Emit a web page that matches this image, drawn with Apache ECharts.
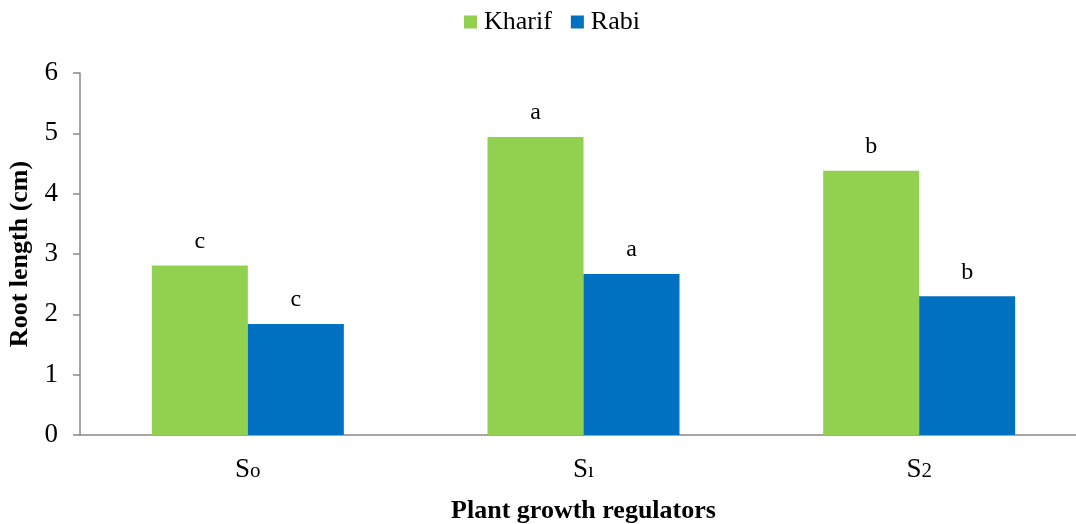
<!DOCTYPE html>
<html>
<head>
<meta charset="utf-8">
<script src="https://cdn.jsdelivr.net/npm/echarts@6/dist/echarts.min.js"></script>
<style>html,body{margin:0;padding:0;background:#fff}#c{width:1076px;height:524px}</style>
</head>
<body>
<div id="c"></div>
<script>
var categories = ['S|o', 'S|ı', 'S|2'];
var kharif = [2.81, 4.94, 4.38];
var rabi = [1.84, 2.67, 2.30];
var kharifLetters = ['c', 'a', 'b'];
var rabiLetters = ['c', 'a', 'b'];
var yTicks = [0, 1, 2, 3, 4, 5, 6];

var chart = echarts.init(document.getElementById('c'));
var font = 'Liberation Serif';
function mk(vals, letters, color, name) {
  return {
    name: name, type: 'bar', barGap: '0%', barCategoryGap: '42.8%',
    itemStyle: { color: color },
    data: vals,
    label: {
      show: true, position: 'top', distance: 12,
      fontFamily: font, fontSize: 24, color: '#000',
      formatter: function (p) { return letters[p.dataIndex]; }
    }
  };
}
chart.setOption({
  animation: false,
  textStyle: { fontFamily: font },
  legend: {
    top: 4, left: 459, itemWidth: 13, itemHeight: 13, itemGap: 19,
    icon: 'rect',
    textStyle: { fontFamily: font, fontSize: 26, color: '#000', padding: [0, 0, 0, 2] },
    data: ['Kharif', 'Rabi']
  },
  grid: { left: 80, right: -11, top: 73, bottom: 89, outerBoundsMode: 'none', containLabel: false },
  xAxis: {
    type: 'category', data: categories,
    axisLine: { lineStyle: { color: '#898989', width: 1.5 } },
    axisTick: { show: false },
    axisLabel: {
      margin: 21, color: '#000',
      formatter: function (v) { var p = v.split('|'); return '{s|' + p[0] + '}{d|' + p[1] + '}'; },
      rich: {
        s: { fontFamily: font, fontSize: 27, color: '#000' },
        d: { fontFamily: font, fontSize: 21, color: '#000', verticalAlign: 'bottom', padding: [0, 0, 1, 0] }
      }
    },
    name: 'Plant growth regulators', nameLocation: 'middle', nameGap: 63,
    nameTextStyle: { fontFamily: font, fontSize: 26, fontWeight: 'bold', color: '#000' }
  },
  yAxis: {
    type: 'value', min: yTicks[0], max: yTicks[yTicks.length - 1], interval: 1,
    axisLine: { show: true, lineStyle: { color: '#898989', width: 1.5 } },
    axisTick: { show: true, length: 7, lineStyle: { color: '#898989', width: 1.5 } },
    splitLine: { show: false },
    axisLabel: { margin: 22, fontFamily: font, fontSize: 27, color: '#000' },
    name: 'Root length (cm)', nameLocation: 'middle', nameGap: 45,
    nameTextStyle: { fontFamily: font, fontSize: 26, fontWeight: 'bold', color: '#000' }
  },
  series: [mk(kharif, kharifLetters, '#92D050', 'Kharif'), mk(rabi, rabiLetters, '#0070C0', 'Rabi')]
});
</script>
</body>
</html>
